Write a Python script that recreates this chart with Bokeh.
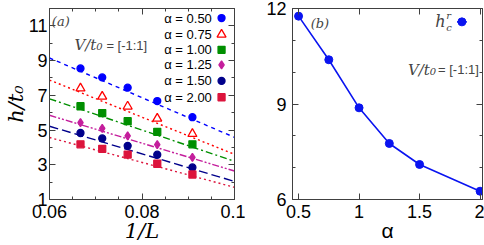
from bokeh.plotting import figure
from bokeh.layouts import row
from bokeh.models import ColumnDataSource, Label, LinearAxis, FixedTicker, Range1d
from bokeh.core.properties import value
from bokeh.embed import file_html
from bokeh.resources import INLINE

# ---------------- data: panel (a) ----------------
inv_L = [0.0667, 0.0714, 0.0769, 0.0833, 0.0909]
alpha_labels = ["α = 0.50", "α = 0.75", "α = 1.00", "α = 1.25", "α = 1.50", "α = 2.00"]
h_a050 = [8.55, 8.03, 7.44, 6.67, 5.74]
h_a075 = [7.40, 6.93, 6.36, 5.66, 4.78]
h_a100 = [6.37, 5.98, 5.51, 4.90, 4.18]
h_a125 = [5.43, 5.09, 4.67, 4.16, 3.42]
h_a150 = [4.83, 4.52, 4.09, 3.58, 2.85]
h_a200 = [4.18, 3.92, 3.59, 3.06, 2.44]
fit_x = [0.06, 0.1]
fit_a050 = [9.15, 4.58]
fit_a075 = [7.88, 3.60]
fit_a100 = [6.80, 3.20]
fit_a125 = [5.85, 2.64]
fit_a150 = [5.22, 2.04]
fit_a200 = [4.57, 1.70]
x_ticks_a = [0.06, 0.08, 0.1]
x_tick_labels_a = ["0.06", "0.08", "0.1"]
y_ticks_a = [1, 3, 5, 7, 9, 11]
y_tick_labels_a = ["1", "3", "5", "7", "9", "11"]

# ---------------- data: panel (b) ----------------
alpha_vals = [0.5, 0.75, 1.0, 1.25, 1.5, 2.0]
h_c_r = [11.76, 10.39, 8.88, 7.76, 7.10, 6.26]
x_ticks_b = [0.5, 1, 1.5, 2]
x_tick_labels_b = ["0.5", "1", "1.5", "2"]
y_ticks_b = [6, 9, 12]
y_tick_labels_b = ["6", "9", "12"]

h_series = [h_a050, h_a075, h_a100, h_a125, h_a150, h_a200]
fit_series = [fit_a050, fit_a075, fit_a100, fit_a125, fit_a150, fit_a200]

styles = [
    dict(color="#0000ff", marker="circle", size=7, fill="#0000ff", dash="4 4"),
    dict(color="#ff0000", marker="triangle", size=9, fill="white", dash="2 3"),
    dict(color="#008f00", marker="square", size=7, fill="#008f00", dash="7 3 2 3"),
    dict(color="#c41e9c", marker="diamond", size=8, fill="#c41e9c", dash="7 2 2 2 2 2"),
    dict(color="#00008b", marker="circle", size=7, fill="#00008b", dash="9 4"),
    dict(color="#dc143c", marker="square", size=7, fill="#dc143c", dash="2 3"),
]

TICK_FONT = "Liberation Sans"
BORDER = "#404040"


def style_axes(p, xt, xl, yt, yl, xminor, yminor, ystandoff,
               xlabel=None, xlabel_font=None, xlabel_style="normal",
               ylabel=None, ylabel_font=None, ylabel_style="normal"):
    xa = p.below[0]
    ya = p.left[0]
    xa.ticker = FixedTicker(ticks=xt, minor_ticks=xminor)
    ya.ticker = FixedTicker(ticks=yt, minor_ticks=yminor)
    xa.major_label_overrides = {t: l for t, l in zip(xt, xl)}
    ya.major_label_overrides = {t: l for t, l in zip(yt, yl)}
    for ax, so in ((xa, 5), (ya, ystandoff)):
        ax.major_label_text_font = TICK_FONT
        ax.major_label_text_font_size = "18px"
        ax.major_label_text_color = "black"
        ax.major_label_standoff = so
        ax.major_tick_in = 6
        ax.major_tick_out = 0
        ax.minor_tick_in = 3
        ax.minor_tick_out = 0
        ax.axis_line_color = BORDER
        ax.major_tick_line_color = BORDER
        ax.minor_tick_line_color = BORDER
        ax.axis_label_text_color = "black"
        ax.axis_label_text_font_size = "21px"
        ax.axis_label_standoff = -2
    if xlabel:
        xa.axis_label = xlabel
        xa.axis_label_text_font = xlabel_font
        xa.axis_label_text_font_style = xlabel_style
    if ylabel:
        ya.axis_label = ylabel
        ya.axis_label_text_font = ylabel_font
        ya.axis_label_text_font_style = ylabel_style
    # mirrored ticks (no labels)
    top = LinearAxis(ticker=FixedTicker(ticks=xt, minor_ticks=xminor))
    right = LinearAxis(ticker=FixedTicker(ticks=yt, minor_ticks=yminor))
    for ax in (top, right):
        ax.major_label_text_color = None
        ax.major_label_standoff = 0
        ax.major_tick_in = 6
        ax.major_tick_out = 0
        ax.minor_tick_in = 3
        ax.minor_tick_out = 0
        ax.axis_line_color = BORDER
        ax.major_tick_line_color = BORDER
        ax.minor_tick_line_color = BORDER
    p.add_layout(top, "above")
    p.add_layout(right, "right")
    p.xgrid.visible = False
    p.ygrid.visible = False
    p.outline_line_color = BORDER
    p.outline_line_width = 1


# ================= panel (a) =================
pa = figure(width=245, height=245, output_backend="svg", toolbar_location=None,
            x_range=Range1d(0.06, 0.1), y_range=Range1d(1, 12),
            min_border_left=45, min_border_right=11, min_border_top=6, min_border_bottom=45)
style_axes(pa, x_ticks_a, x_tick_labels_a, y_ticks_a, y_tick_labels_a,
           [0.065, 0.07, 0.075, 0.085, 0.09, 0.095], [2, 4, 6, 8, 10], 2,
           xlabel="1/L", xlabel_font="DejaVu Serif", xlabel_style="italic",
           ylabel="h/t₀", ylabel_font="DejaVu Serif", ylabel_style="italic")

for hs, fs, st in zip(h_series, fit_series, styles):
    pa.line(fit_x, fs, line_color=st["color"], line_width=1.4, line_dash=st["dash"])
    pa.scatter(inv_L, hs, marker=st["marker"], size=st["size"], line_color=st["color"],
               fill_color=st["fill"], line_width=1.3)

# legend (gnuplot style: text right-aligned, marker on the right)
leg_y = [11.45, 10.50, 9.62, 8.75, 7.83, 6.89]
leg_src = ColumnDataSource(dict(x=[0.0951] * 6, y=leg_y, t=alpha_labels))
pa.text(x="x", y="y", text="t", source=leg_src, text_align="right", text_baseline="middle",
        text_font=value(TICK_FONT), text_font_size=value("13px"), text_color="black")
for yy, st in zip(leg_y, styles):
    pa.scatter([0.0972], [yy], marker=st["marker"], size=st["size"], line_color=st["color"],
               fill_color=st["fill"], line_width=1.3)

pa.add_layout(Label(x=0.0605, y=11.25, text="(a)", text_font="DejaVu Serif",
                    text_font_style="italic", text_font_size="13px", text_baseline="middle"))
pa.add_layout(Label(x=0.0654, y=9.87, text="V/t₀", text_font="DejaVu Serif",
                    text_font_style="italic", text_font_size="15px", text_baseline="middle"))
pa.add_layout(Label(x=0.0723, y=9.87, text="= [-1:1]", text_font=TICK_FONT,
                    text_font_size="13px", text_baseline="middle"))

# ================= panel (b) =================
pb = figure(width=239, height=245, output_backend="svg", toolbar_location=None,
            x_range=Range1d(0.45, 2.02), y_range=Range1d(6, 12),
            min_border_left=47, min_border_right=2, min_border_top=8, min_border_bottom=45)
style_axes(pb, x_ticks_b, x_tick_labels_b, y_ticks_b, y_tick_labels_b,
           [], [7, 8, 10, 11], 6,
           xlabel="α", xlabel_font=TICK_FONT, xlabel_style="normal")

pb.line(alpha_vals, h_c_r, line_color="#0a14f0", line_width=1.6)
pb.scatter(alpha_vals, h_c_r, marker="circle", size=8, line_color="#0a14f0", fill_color="#0a14f0")

# legend h_c^r
pb.add_layout(Label(x=1.715, y=11.58, text="h", text_font="DejaVu Serif",
                    text_font_style="italic", text_font_size="16px", text_baseline="middle",
                    text_align="right"))
pb.add_layout(Label(x=1.72, y=11.78, text="r", text_font="DejaVu Serif",
                    text_font_style="italic", text_font_size="10px", text_baseline="middle"))
pb.add_layout(Label(x=1.72, y=11.40, text="c", text_font="DejaVu Serif",
                    text_font_style="italic", text_font_size="10px", text_baseline="middle"))
pb.line([1.81, 1.89], [11.58, 11.58], line_color="#0a14f0", line_width=1.6)
pb.scatter([1.85], [11.58], marker="circle", size=8, line_color="#0a14f0", fill_color="#0a14f0")

pb.add_layout(Label(x=0.60, y=11.53, text="(b)", text_font="DejaVu Serif",
                    text_font_style="italic", text_font_size="13px", text_baseline="middle"))
pb.add_layout(Label(x=1.635, y=10.08, text="V/t₀", text_font="DejaVu Serif",
                    text_font_style="italic", text_font_size="15px", text_baseline="middle",
                    text_align="right"))
pb.add_layout(Label(x=1.99, y=10.08, text="= [-1:1]", text_font=TICK_FONT,
                    text_font_size="13px", text_baseline="middle", text_align="right"))

layout = row(pa, pb)
open("out.html", "w").write(file_html(layout, INLINE))
